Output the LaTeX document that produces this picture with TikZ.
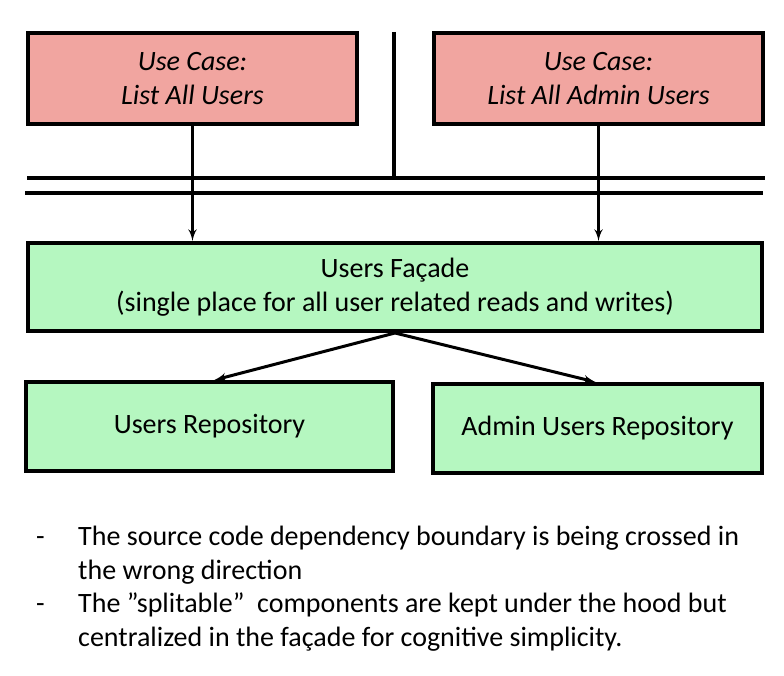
\documentclass[tikz,border=0pt]{standalone}
\usepackage{fontspec}
\setmainfont{Carlito}
\usepackage{xcolor}
\usetikzlibrary{arrows,positioning}
\definecolor{usecasepink}{RGB}{241,165,160}
\definecolor{facadegreen}{RGB}{181,247,192}
\tikzset{
>=latex',
  line/.style={draw, line width=3pt, ->},
}

\begin{document}
\begin{tikzpicture}[x=1pt,y=-1pt]
    \tikzset{
        every node/.style={font=\fontsize{28}{34}\selectfont},
        usecase/.style={rectangle,draw=black, fill=usecasepink, line width=4pt, minimum width=329pt, minimum height=91pt, align=center, font=\fontsize{28}{34}\selectfont\itshape},
        block/.style={rectangle,draw=black, fill=facadegreen, line width=4pt, minimum height=89pt, align=center},
        boundary/.style={draw, line width=3.5pt},
        note/.style={anchor=base west, inner sep=0pt, align=left},
    }
    \useasboundingbox (0,0) rectangle (784,676);

    \node[usecase] (useCase1) at (192.5,78.5) {Use Case:\\List All Users};
    \node[usecase] (useCase2) at (598.5,78.5) {Use Case:\\List All Admin Users};

    \node[block, minimum width=734pt, minimum height=88pt] (facade) at (395,287) {Users Façade\\(single place for all user related reads and writes)};

    \node[block, minimum width=367pt] (repo1) at (209.5,426.5) {Users Repository};
    \node[block, minimum width=329pt] (repo2) at (597.5,428.5) {Admin Users Repository};

    % the boundary
    \coordinate (AuxNode01) at (394,32);
    \coordinate (AuxNode02) at (394,178);
    \coordinate (AuxNode03) at (27,178);
    \coordinate (AuxNode04) at (765,178);
    \coordinate (AuxNode05) at (25,193);
    \coordinate (AuxNode06) at (763,193);
    \path[boundary] (AuxNode01) -- (AuxNode02);
    \path[boundary] (AuxNode03) -- (AuxNode04);
    \path[boundary] (AuxNode05) -- (AuxNode06);

    \path[line] (useCase1.south) -- (useCase1.south |- facade.north);
    \path[line] (useCase2.south) -- (useCase2.south |- facade.north);
    \path[line] (facade.south) -- ([xshift=5pt]repo1.north);
    \path[line] (facade.south) -- ([xshift=-2pt]repo2.north);

    % notes
    \node[note] (dash1) at (36,545) {-};
    \node[note] (note1) at (78,579) {The source code dependency boundary is being crossed in\\the wrong direction};
    \node[note] (dash2) at (36,612) {-};
    \node[note] (note2) at (78,646) {The ”splitable”~ components are kept under the hood but\\centralized in the façade for cognitive simplicity.};
\end{tikzpicture}
\end{document}
